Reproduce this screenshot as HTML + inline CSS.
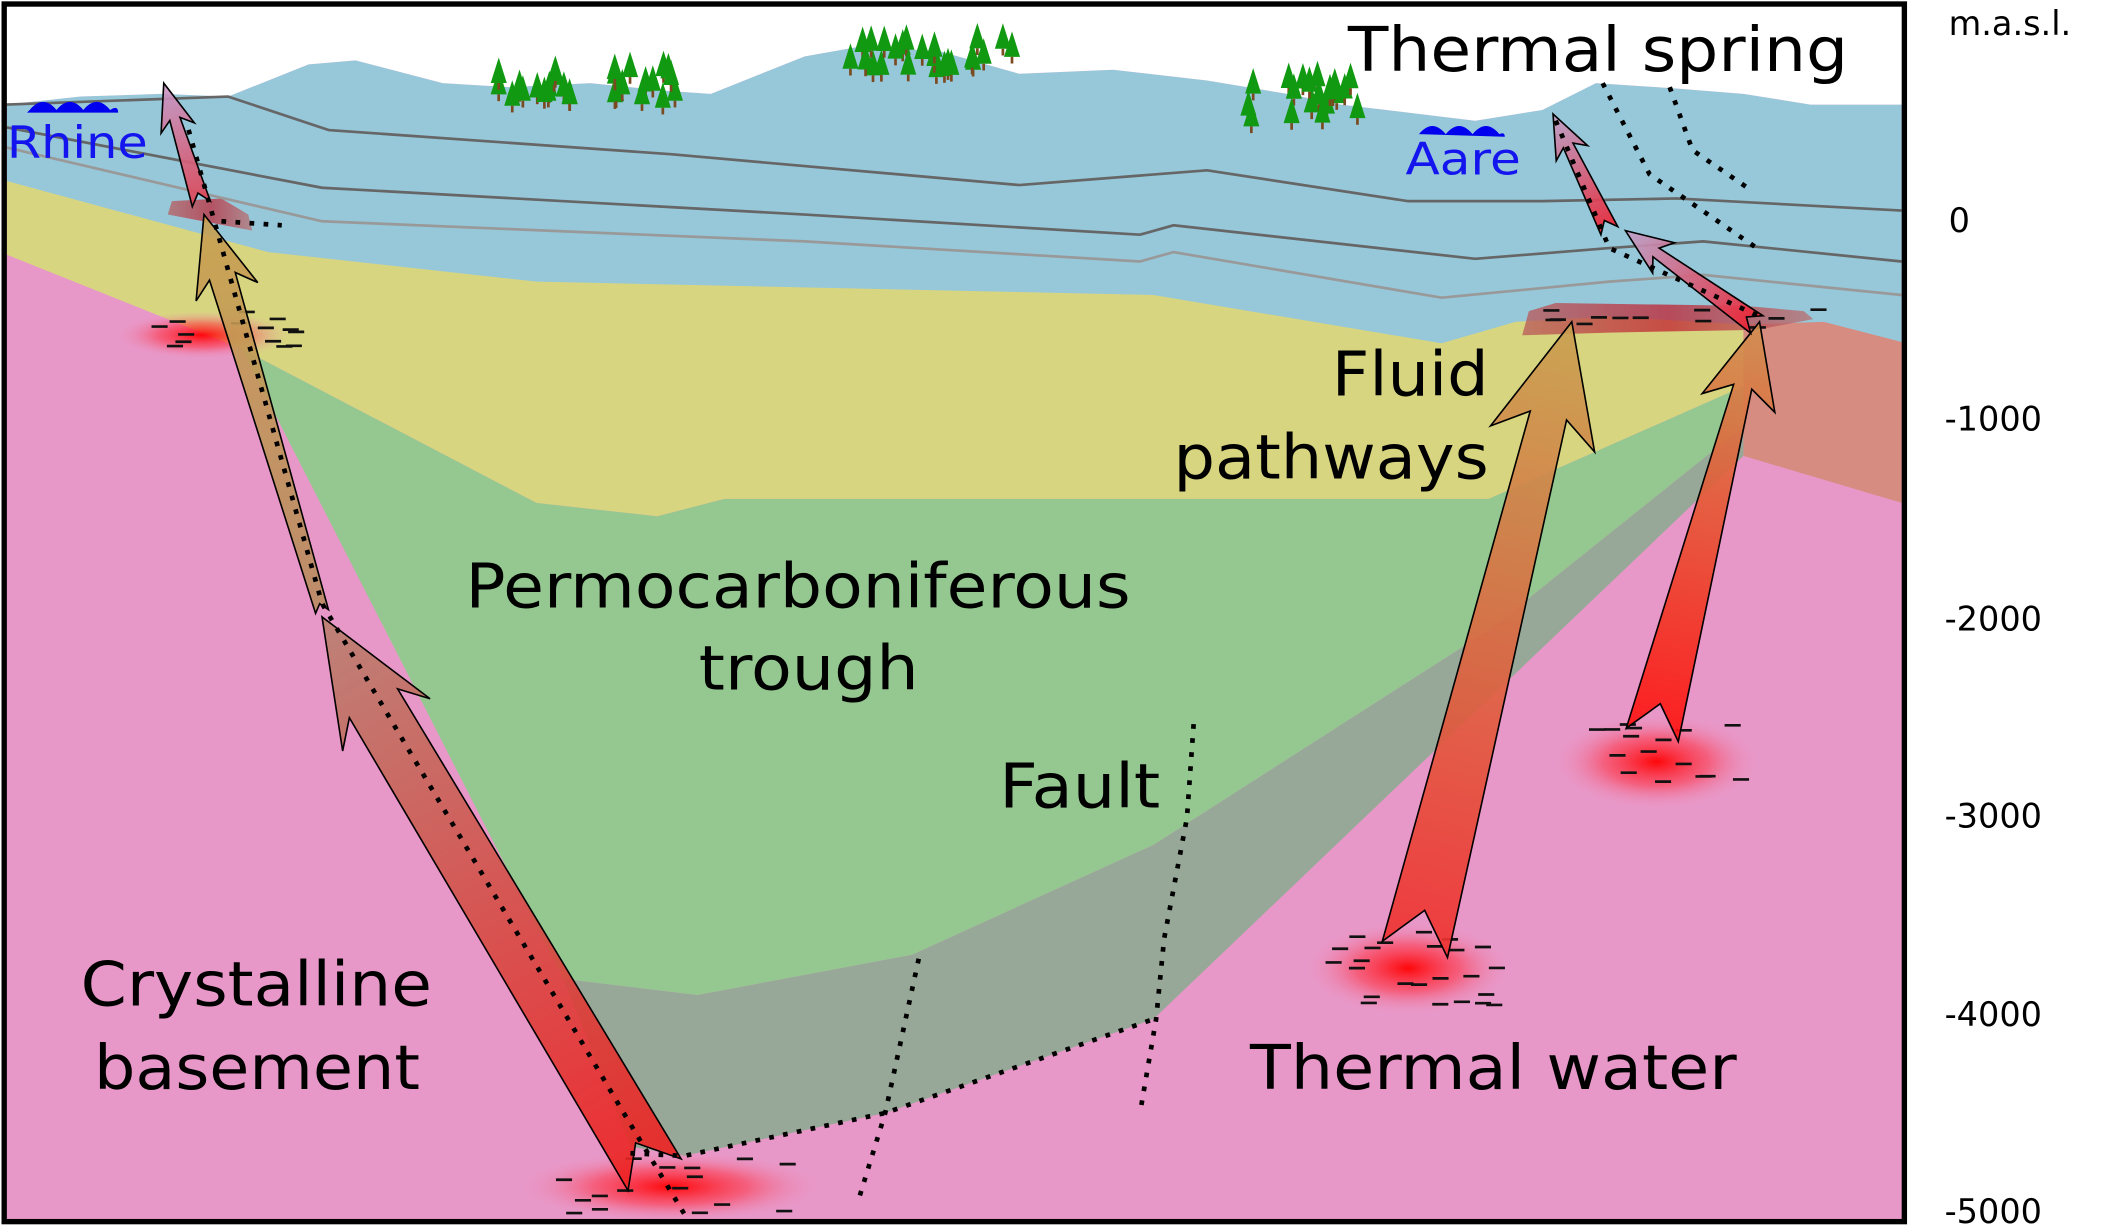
<!DOCTYPE html>
<html><head><meta charset="utf-8"><style>
html,body{margin:0;padding:0;background:#fff;}
svg{display:block;}
text{font-family:"DejaVu Sans","Liberation Sans",sans-serif;}
</style></head><body>
<svg id="s" width="2103" height="1227" viewBox="0 0 1568 915" xmlns="http://www.w3.org/2000/svg">
<defs>
<radialGradient id="blob"><stop offset="0" stop-color="#ff0000" stop-opacity="0.95"/><stop offset="0.5" stop-color="#ff3040" stop-opacity="0.55"/><stop offset="1" stop-color="#e898c8" stop-opacity="0"/></radialGradient>
<linearGradient id="lens" x1="0" x2="1"><stop offset="0" stop-color="#b85a5a"/><stop offset="0.5" stop-color="#c02030"/><stop offset="1" stop-color="#b87070"/></linearGradient>
</defs>
<rect x="0" y="0" width="1568" height="915" fill="#fff"/>
<rect x="4" y="4" width="1416" height="906" fill="#e898c8"/>
<polygon fill="#98a898" points="420,730 520,742 680,712 860,630 1110,470 1300,318 1300,340 860,760 660,830 510,862 470,855"/>
<polygon fill="#94c890" points="180,260 400,375 490,385 540,372 1110,372 1300,288 1300,318 1110,470 860,630 680,712 520,742 420,730"/>
<polygon fill="#d8d580" points="5,120 1300,120 1300,288 1110,372 540,372 490,385 400,375 180,260 5,190"/>
<polygon fill="#d68c80" points="1300,200 1418,200 1418,375 1300,340"/>
<polygon fill="#96c8da" points="5,78 60,72 120,70 170,72 230,48 265,45 330,62 380,65 440,62 500,68 530,70 600,42 640,35 700,38 760,55 830,52 900,60 960,70 1000,78 1050,84 1100,90 1150,82 1190,62 1250,66 1300,70 1350,78 1418,78 1418,255 1360,240 1300,242 1200,236 1130,240 1075,256 860,220 400,210 200,188 5,135"/>
<polygon fill="#fff" points="4,4 1420,4 1420,78 1418,78 1350,78 1300,70 1250,66 1190,62 1150,82 1100,90 1050,84 1000,78 960,70 900,60 830,52 760,55 700,38 640,35 600,42 530,70 500,68 440,62 380,65 330,62 265,45 230,48 170,72 120,70 60,72 4,78"/>
<polygon fill="url(#lens)" opacity="0.75" points="1140,232 1160,226 1300,228 1345,232 1352,238 1310,246 1200,248 1135,250"/>
<polygon fill="url(#lens)" opacity="0.7" points="128,150 165,148 185,160 188,172 125,160"/>
<polyline fill="none" stroke="#666" stroke-width="2" points="5,78 170,72 245,97 500,115 760,138 900,127 1050,150 1150,150 1250,148 1418,157"/>
<polyline fill="none" stroke="#666" stroke-width="2" points="5,95 240,140 600,160 850,175 875,168 1100,193 1200,185 1270,180 1418,195"/>
<polyline fill="none" stroke="#999" stroke-width="2" points="5,110 240,165 600,180 850,195 875,188 1075,222 1200,210 1270,205 1418,220"/>
<path d="M22,82 q10,-12 20,0 q10,-12 20,0 q10,-12 20,0 q6,-4 6,2 l-68,0 z" fill="#0000ee"/>
<path d="M1058,100 q10,-12 20,0 q10,-12 20,0 q10,-12 20,0 q4,-2 4,2 z" fill="#0000ee"/>
<g id="trees" fill="#119911"></g>
<ellipse cx="150" cy="250" rx="65" ry="18" fill="url(#blob)"/>
<ellipse cx="500" cy="885" rx="115" ry="27" fill="url(#blob)"/>
<ellipse cx="1050" cy="722" rx="78" ry="35" fill="url(#blob)"/>
<ellipse cx="1235" cy="568" rx="78" ry="36" fill="url(#blob)"/>
<g id="dashes" stroke="#111" stroke-width="2"></g>
<g id="arrows"></g>
<g fill="none" stroke="#000" stroke-width="3.5" stroke-dasharray="3.5,7">
<polyline points="890,540 885,610 868,700 862,760 850,830"/>
<polyline points="685,715 660,830 640,895"/>
<polyline points="470,860 510,862 660,830 860,760"/>
<polyline points="510,905 465,830 240,450 140,95"/>
<polyline points="165,165 210,168"/>
<polyline points="1195,62 1230,130 1310,185"/>
<polyline points="1245,65 1262,112 1303,140"/>
<polyline points="1160,90 1200,185 1310,235"/>
</g>
<rect x="3" y="3" width="1417" height="908" fill="none" stroke="#000" stroke-width="4"/>
<g font-size="46" fill="#000">
<text x="1005" y="53" textLength="373" lengthAdjust="spacingAndGlyphs">Thermal spring</text>
<text x="993" y="295" textLength="117" lengthAdjust="spacingAndGlyphs">Fluid</text>
<text x="875" y="357" textLength="235" lengthAdjust="spacingAndGlyphs">pathways</text>
<text x="347" y="453" textLength="496" lengthAdjust="spacingAndGlyphs">Permocarboniferous</text>
<text x="521" y="514" textLength="164" lengthAdjust="spacingAndGlyphs">trough</text>
<text x="745" y="602" textLength="120" lengthAdjust="spacingAndGlyphs">Fault</text>
<text x="60" y="750" textLength="262" lengthAdjust="spacingAndGlyphs">Crystalline</text>
<text x="70" y="812" textLength="243" lengthAdjust="spacingAndGlyphs">basement</text>
<text x="932" y="812" textLength="363" lengthAdjust="spacingAndGlyphs">Thermal water</text>
</g>
<text x="5" y="118" font-size="33" fill="#1414ee" textLength="105" lengthAdjust="spacingAndGlyphs">Rhine</text>
<text x="1048" y="130" font-size="33" fill="#1414ee" textLength="86" lengthAdjust="spacingAndGlyphs">Aare</text>
<g font-size="25" fill="#000">
<text x="1453" y="26">m.a.s.l.</text>
<text x="1453" y="173">0</text>
<text x="1450" y="321">-1000</text>
<text x="1450" y="470">-2000</text>
<text x="1450" y="617">-3000</text>
<text x="1450" y="765">-4000</text>
<text x="1450" y="912">-5000</text>
</g>
</svg>
<script>
var NS="http://www.w3.org/2000/svg";
function el(n,a,p){var e=document.createElementNS(NS,n);for(var k in a)e.setAttribute(k,a[k]);p.appendChild(e);return e;}
var defs=document.querySelector('defs'),ag=document.getElementById('arrows');
var arrows=[
 [488,876,240,460,42,46,38,75,'#ee2020','#b88070'],
 [240,456,152,160,20,10,24,48,'#b88a60','#c8a050'],
 [150,152,122,62,8,14,13,28,'#e04050','#c898c8'],
 [1055,708,1172,240,28,50,40,72,'#f03030','#c8a050'],
 [1232,548,1312,240,14,40,28,50,'#ff1010','#d09050'],
 [1310,242,1212,172,8,16,14,28,'#ee2030','#c0a0c8'],
 [1200,172,1158,85,8,14,13,26,'#ee2030','#c0a0c8']];
arrows.forEach(function(a,i){
 var x1=a[0],y1=a[1],x2=a[2],y2=a[3],w1=a[4],w2=a[5],H=a[6],L=a[7];
 var dx=x2-x1,dy=y2-y1,len=Math.hypot(dx,dy),ux=dx/len,uy=dy/len,px=-uy,py=ux;
 var bx=x2-ux*L,by=y2-uy*L;
 var g=el('linearGradient',{id:'ag'+i,gradientUnits:'userSpaceOnUse',x1:x1,y1:y1,x2:x2,y2:y2},defs);
 el('stop',{offset:0,'stop-color':a[8]},g);el('stop',{offset:1,'stop-color':a[9]},g);
 var bk=L*0.25,nt=w2*0.6;
 var pts=[[x2,y2],[bx+px*H-ux*bk,by+py*H-uy*bk],[bx+px*w1/2,by+py*w1/2],[x1+px*w2/2,y1+py*w2/2],[x1+ux*nt,y1+uy*nt],[x1-px*w2/2,y1-py*w2/2],[bx-px*w1/2,by-py*w1/2],[bx-px*H-ux*bk,by-py*H-uy*bk]];
 el('polygon',{points:pts.map(function(p){return p[0].toFixed(1)+','+p[1].toFixed(1)}).join(' '),fill:'url(#ag'+i+')','fill-opacity':0.9,stroke:'#000','stroke-width':1.2},ag);
});
var dg=document.getElementById('dashes');
var ds=[[150,250,70,18,14],[500,885,90,22,16],[1050,722,65,30,24],[1235,568,60,30,16],[1250,238,100,8,12]];
var seed=3;function r(){seed=(seed*9301+49297)%233280;return seed/233280;}
ds.forEach(function(d){for(var k=0;k<d[4];k++){var x=d[0]+(r()*2-1)*d[2],y=d[1]+(r()*2-1)*d[3];el('line',{x1:x,y1:y,x2:x+12,y2:y},dg);}});
var tg=document.getElementById('trees');
var tr=[[370,430,45,65,14],[455,520,42,68,14],[630,760,22,45,24],[928,1015,48,82,20]];
tr.forEach(function(t){for(var k=0;k<t[4];k++){var x=t[0]+r()*(t[1]-t[0]),y=t[2]+r()*(t[3]-t[2]);
 el('polygon',{points:(x-6)+','+(y+14)+' '+x+','+(y-5)+' '+(x+6)+','+(y+14)},tg);
 el('rect',{x:x-1,y:y+14,width:2,height:5,fill:'#7a4a20'},tg);}});
</script>
</body></html>
